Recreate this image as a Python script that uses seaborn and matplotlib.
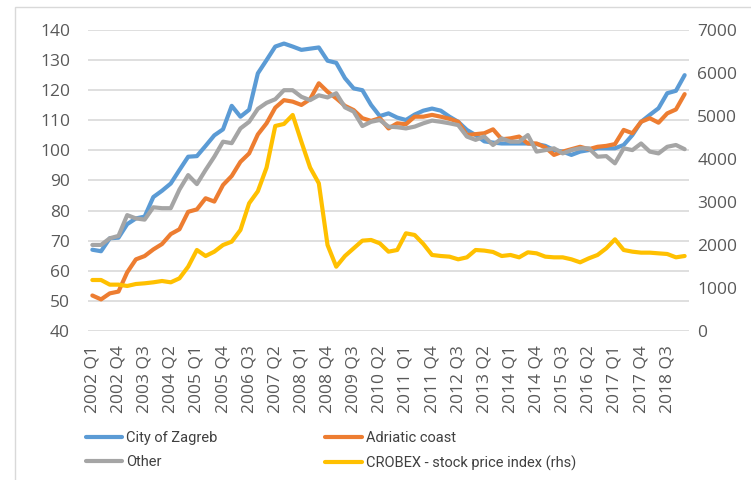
import numpy as np
import pandas as pd
import matplotlib
matplotlib.use("Agg")
import matplotlib.pyplot as plt
import seaborn as sns
from matplotlib.lines import Line2D
from matplotlib.patches import Rectangle

quarters = [f"{y} Q{q}" for y in range(2002, 2020) for q in range(1, 5)][:69]

zagreb = [67, 66.5, 70.8, 71, 75.5, 77.4, 78, 84.5, 86.6, 89, 93.5, 97.9, 98.1, 101.5, 105, 107,
          114.8, 111.2, 113.5, 125.6, 130, 134.5, 135.5, 134.5, 133.4, 133.8, 134.2, 129.8, 129.1,
          124, 120.6, 120, 115.1, 111.4, 112.3, 110.9, 110.1, 111.9, 113.2, 113.9, 113.2, 111.2,
          109.5, 106.8, 105.1, 103, 102.6, 102.3, 102.3, 102.3, 102.3, 102.1, 101.5, 100.1, 99.6,
          98.5, 99.6, 100.1, 100.7, 100.7, 100.7, 101.8, 105.1, 109.5, 111.8, 114, 119, 119.8, 125]

adriatic = [51.8, 50.5, 52.5, 53.1, 59.5, 63.8, 64.9, 67.1, 68.9, 72.2, 73.8, 79.6, 80.4, 84.1, 83,
            88.5, 91.5, 96.2, 99, 105.3, 109, 114.2, 116.7, 116.2, 115.1, 117, 122.3, 119.5, 117.3,
            114.8, 113.4, 110.7, 109.8, 110.7, 107.3, 109, 108.7, 111.2, 111.2, 111.8, 111.2, 110.5,
            109.5, 105.1, 105.4, 105.7, 107, 103.7, 104, 104.6, 102.3, 102.3, 101, 98.5, 99.6, 100.4,
            101.2, 100.4, 101.2, 101.5, 102.1, 106.8, 105.7, 109.5, 110.7, 109.2, 112.3, 113.6, 118.7]

other = [68.6, 68.6, 70.8, 71.6, 78.5, 77.4, 77, 81.1, 80.8, 80.8, 87, 91.8, 88.8, 93.5, 97.9, 102.9,
         102.4, 107.3, 109.5, 113.8, 115.8, 117, 120, 120, 117.8, 116.7, 118.3, 117.6, 119, 114.3,
         112.9, 108.1, 109.5, 110.1, 107.9, 107.7, 107.3, 107.9, 109, 109.9, 109.5, 109, 108.4,
         104.6, 103.5, 104.6, 101.8, 104, 102.9, 102.9, 105.1, 99.6, 100.1, 100.7, 99, 100.1, 100.7,
         100.7, 97.9, 98.1, 95.7, 100.7, 100.1, 102.3, 99.6, 99, 101.2, 101.8, 100.4]

crobex = [1186, 1186, 1078, 1078, 1047, 1093, 1109, 1132, 1163, 1132, 1225, 1496, 1884, 1744, 1845,
          2000, 2078, 2349, 2970, 3250, 3800, 4768, 4815, 5024, 4400, 3800, 3435, 2000, 1496, 1744,
          1923, 2101, 2117, 2039, 1845, 1884, 2272, 2233, 2024, 1768, 1744, 1729, 1667, 1713, 1884,
          1870, 1838, 1744, 1768, 1713, 1830, 1806, 1729, 1713, 1713, 1667, 1597, 1690, 1768, 1923,
          2132, 1884, 1845, 1822, 1822, 1806, 1791, 1713, 1744]

labels = ["City of Zagreb", "Adriatic coast", "Other", "CROBEX - stock price index (rhs)"]
colors = ["#5B9BD5", "#ED7D31", "#A5A5A5", "#FFC000"]

sns.set_style("white")
plt.rcParams["font.family"] = ["Open Sans", "DejaVu Sans"]

fig = plt.figure(figsize=(7.51, 4.8), dpi=100)
ax = fig.add_axes([88/751, 1 - 331/480, (689-88)/751, (331-30)/480])
ax2 = ax.twinx()

idx = np.arange(len(quarters))
df = pd.DataFrame({"i": idx, "zagreb": zagreb, "adriatic": adriatic, "other": other, "crobex": crobex})

lw = 3.0
sns.lineplot(data=df, x="i", y="zagreb", ax=ax, color=colors[0], lw=lw, sort=False)
sns.lineplot(data=df, x="i", y="adriatic", ax=ax, color=colors[1], lw=lw, sort=False)
sns.lineplot(data=df, x="i", y="other", ax=ax, color=colors[2], lw=lw, sort=False)
sns.lineplot(data=df, x="i", y="crobex", ax=ax2, color=colors[3], lw=lw, sort=False)

for a in (ax, ax2):
    a.set_xlim(-0.5, len(quarters) - 0.5)
    a.set_xlabel("")
    a.set_ylabel("")
    for s in a.spines.values():
        s.set_visible(False)
    a.patch.set_alpha(0)

ax.set_ylim(40, 140)
ax.set_yticks(np.arange(40, 141, 10))
ax2.set_ylim(0, 7000)
ax2.set_yticks(np.arange(0, 7001, 1000))
ax.grid(axis="y", color="#D9D9D9", lw=1.2)
ax.grid(axis="x", visible=False)
ax2.grid(False)
ax.set_axisbelow(True)

ax.set_xticks(idx[::3])
ax.set_xticklabels([quarters[k] for k in idx[::3]], rotation=90)
ax.tick_params(axis="x", length=0, pad=10, labelsize=12.5, labelcolor="#595959")
ax.tick_params(axis="y", length=0, pad=13, labelsize=12.5, labelcolor="#595959")
ax2.tick_params(axis="y", length=0, pad=6, labelsize=12.5, labelcolor="#595959")

handles = [Line2D([], [], color=colors[0], lw=lw), Line2D([], [], color=colors[2], lw=lw),
           Line2D([], [], color=colors[1], lw=lw), Line2D([], [], color=colors[3], lw=lw)]
leg_labels = [labels[0], labels[2], labels[1], labels[3]]
leg = fig.legend(handles, leg_labels, ncol=2, loc="upper left", bbox_to_anchor=(86/751, 1 - 431/480),
                 frameon=False, handlelength=2.5, handletextpad=0.25, columnspacing=7.4,
                 labelspacing=0.72, borderpad=0, borderaxespad=0,
                 prop={"family": ["Liberation Sans Narrow", "Roboto", "DejaVu Sans"], "size": 10.5})
for t in leg.get_texts():
    t.set_color("#404040")

fig.add_artist(Rectangle((15/751, -0.05), 1.0, (480-7)/480 + 0.05, transform=fig.transFigure,
                         fill=False, edgecolor="#D9D9D9", lw=1))

fig.savefig("out.png", dpi=100)
